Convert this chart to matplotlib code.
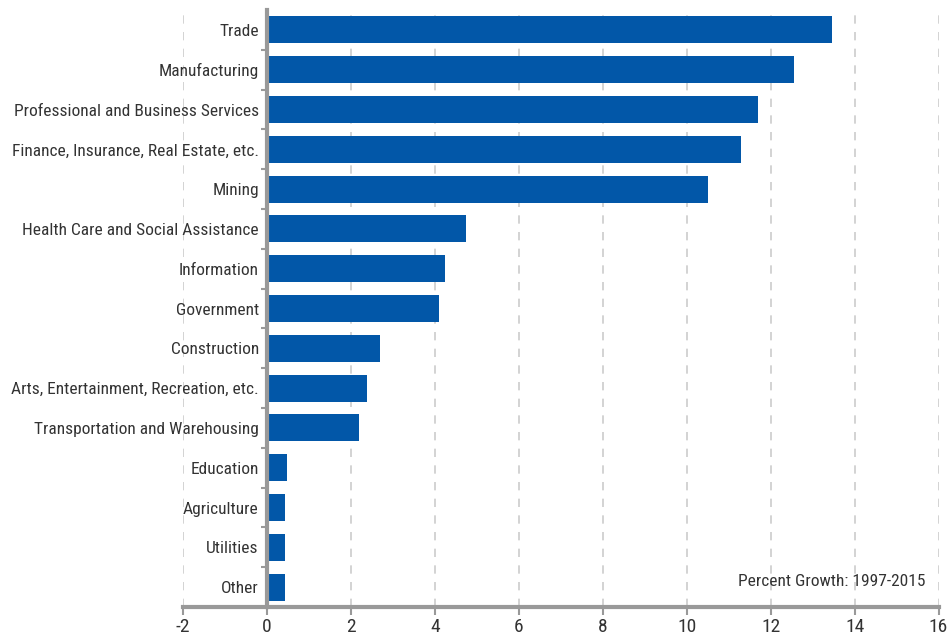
import matplotlib
matplotlib.use("Agg")
import matplotlib.pyplot as plt
from matplotlib.ticker import FixedLocator

plt.rcParams['font.family'] = ['Roboto Condensed', 'DejaVu Sans']

categories = [
    "Trade",
    "Manufacturing",
    "Professional and Business Services",
    "Finance, Insurance, Real Estate, etc.",
    "Mining",
    "Health Care and Social Assistance",
    "Information",
    "Government",
    "Construction",
    "Arts, Entertainment, Recreation, etc.",
    "Transportation and Warehousing",
    "Education",
    "Agriculture",
    "Utilities",
    "Other",
]
growth = [13.45, 12.55, 11.7, 11.3, 10.5, 4.75, 4.25, 4.1, 2.7, 2.38, 2.2, 0.48, 0.43, 0.43, 0.43]
x_ticks = [-2, 0, 2, 4, 6, 8, 10, 12, 14, 16]
note = "Percent Growth: 1997-2015"

bar_color = "#0257a8"
axis_gray = "#999999"
text_color = "#333333"

fig = plt.figure(figsize=(9.49, 6.36), dpi=100)
ax = fig.add_axes([0.193, 0.0456, 0.796, 0.9386])

pos = list(range(len(categories)))
ax.barh(pos, growth, height=0.68, color=bar_color, zorder=3)

ax.set_ylim(len(categories) - 0.5, -0.5)
ax.set_xlim(-2, 16)

ax.set_xticks(x_ticks)
ax.set_xticklabels([str(t) for t in x_ticks])
ax.set_yticks(pos)
ax.set_yticklabels(categories)
ax.yaxis.set_minor_locator(FixedLocator([p + 0.5 for p in pos[:-1]]))

ax.grid(axis="x", linestyle=(0, (5, 5)), color="#cccccc", linewidth=1.2, zorder=0)

for s in ["top", "right"]:
    ax.spines[s].set_visible(False)
ax.spines["left"].set_position(("data", 0))
ax.spines["left"].set_color(axis_gray)
ax.spines["left"].set_linewidth(3)
ax.spines["left"].set_zorder(4)
ax.spines["bottom"].set_color(axis_gray)
ax.spines["bottom"].set_linewidth(3)

ax.tick_params(axis="y", which="major", length=0, pad=6, labelsize=12.5, labelcolor=text_color)
ax.tick_params(axis="y", which="minor", length=4, width=1.5, color=axis_gray, direction="out")
ax.tick_params(axis="x", length=6, width=1.5, color=axis_gray, pad=2, labelsize=14, labelcolor=text_color)

ax.text(0.983, 0.042, note, transform=ax.transAxes, ha="right", va="center",
        fontsize=12.5, color=text_color)

plt.savefig("out.png", dpi=100)
